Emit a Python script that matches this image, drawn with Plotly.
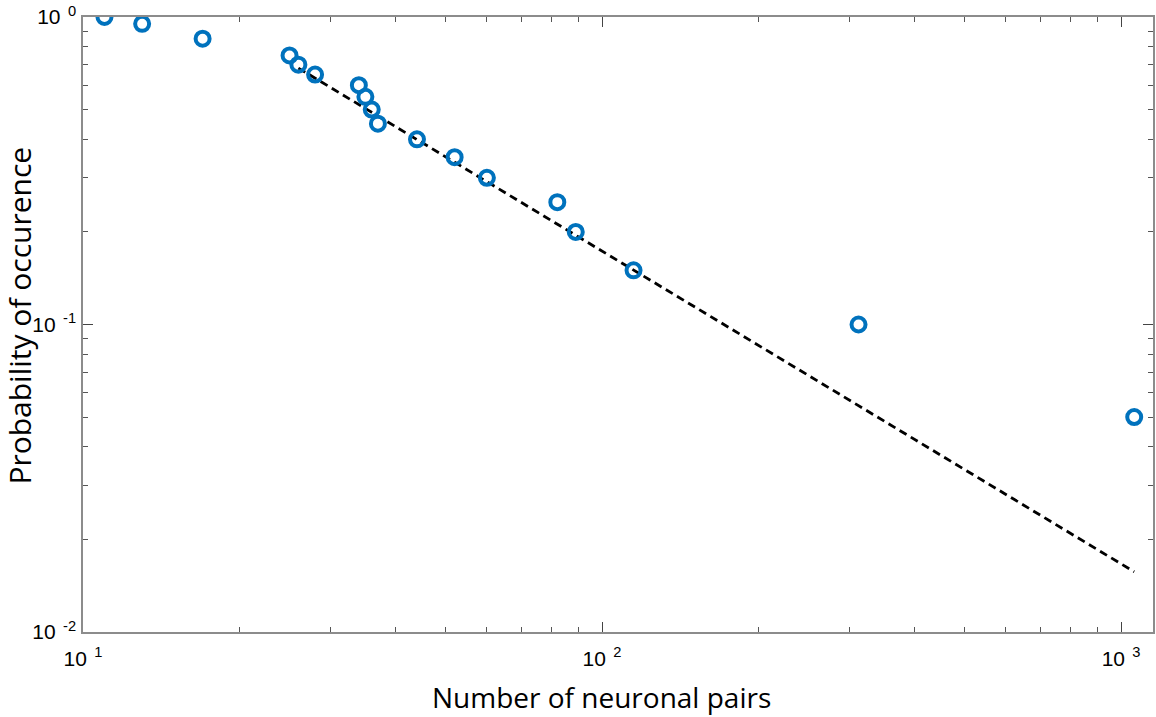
import plotly.graph_objects as go

# Observed occurrence probability against number of neuronal pairs
neuronal_pairs = [11, 13, 17, 25, 26, 28, 34, 35, 36, 37, 44, 52, 60, 82, 89, 115, 312, 1060]
probability = [1.00, 0.95, 0.85, 0.75, 0.70, 0.65, 0.60, 0.55, 0.50, 0.45,
               0.40, 0.35, 0.30, 0.25, 0.20, 0.15, 0.10, 0.05]

# Power-law fit (straight on log-log axes), drawn between its end points
fit_pairs = [26, 1060]
fit_probability = [0.682, 0.0157]

x_major = [10, 100, 1000]
x_major_text = ["10<sup>\u20021</sup>", "10<sup>\u20022</sup>", "10<sup>\u20023</sup>"]
y_major = [0.01, 0.1, 1]
y_major_text = ["10<sup>\u2002-2</sup>", "10<sup>\u2002-1</sup>", "10<sup>\u20020</sup>"]

x_minor = [m * d for d in (10, 100) for m in range(2, 10)]
y_minor = [m * d for d in (0.01, 0.1) for m in range(2, 10)]

fig = go.Figure()
fig.add_trace(go.Scatter(
    x=fit_pairs, y=fit_probability, mode="lines",
    line=dict(color="black", width=2.8, dash="8px,5px"),
    showlegend=False, hoverinfo="skip",
))
fig.add_trace(go.Scatter(
    x=neuronal_pairs, y=probability, mode="markers",
    marker=dict(symbol="circle-open", size=14, color="#0072BD",
                line=dict(width=4, color="#0072BD")),
    showlegend=False,
))

axis_common = dict(
    type="log", showgrid=False, zeroline=False,
    showline=True, linecolor="#8c8c8c", linewidth=1.5, mirror="ticks",
    ticks="inside", ticklen=10, tickwidth=1, tickcolor="#444444",
    tickmode="array",
    tickfont=dict(family="Liberation Sans, Arial, sans-serif", size=21, color="black"),
)

fig.update_xaxes(
    **axis_common,
    range=[1, 3.0615],
    tickvals=x_major, ticktext=x_major_text,
    ticklabelstandoff=7,
    minor=dict(tickmode="array", tickvals=x_minor, ticks="inside", ticklen=5,
               tickcolor="#555555", showgrid=False),
)
fig.update_yaxes(
    **axis_common,
    range=[-2, 0],
    tickvals=y_major, ticktext=y_major_text,
    ticklabelstandoff=1,
    minor=dict(tickmode="array", tickvals=y_minor, ticks="inside", ticklen=5,
               tickcolor="#555555", showgrid=False),
)

fig.add_annotation(
    text="Number of neuronal pairs", xref="paper", yref="paper",
    x=0.485, y=-0.106, xanchor="center", yanchor="middle",
    showarrow=False, font=dict(family="Open Sans, sans-serif", size=28, color="black"),
)
fig.add_annotation(
    text="Probability of occurence", xref="paper", yref="paper",
    x=-0.0595, y=0.515, xanchor="center", yanchor="middle", textangle=-90,
    showarrow=False, font=dict(family="Open Sans, sans-serif", size=30, color="black"),
)

fig.update_layout(
    width=1156, height=717,
    margin=dict(l=83, r=1, t=17, b=85),
    paper_bgcolor="white", plot_bgcolor="white",
)

fig.write_html("out.html")
